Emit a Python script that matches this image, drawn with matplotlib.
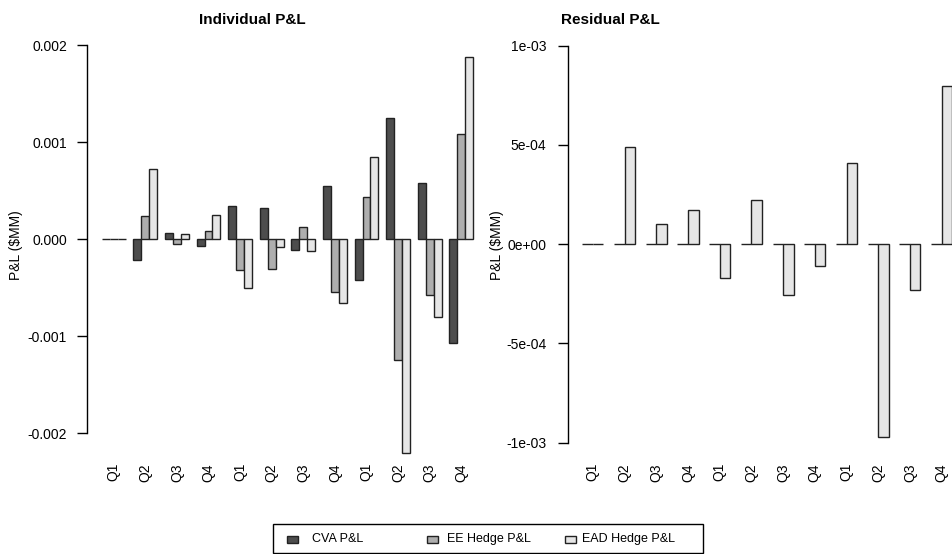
import matplotlib
matplotlib.use("Agg")
import matplotlib.pyplot as plt
from matplotlib.patches import Rectangle
import numpy as np

plt.rcParams['font.family'] = ['Liberation Sans', 'DejaVu Sans']

quarters = ["Q1", "Q2", "Q3", "Q4", "Q1", "Q2", "Q3", "Q4", "Q1", "Q2", "Q3", "Q4"]
cva_pl = [0.0, -0.00022, 0.000065, -0.000076, 0.00034, 0.00032, -0.00011, 0.00055,
          -0.00042, 0.001245, 0.00058, -0.00107]
ee_hedge_pl = [0.0, 0.00024, -0.00005, 0.00008, -0.00032, -0.00031, 0.000124, -0.00055,
               0.00043, -0.001245, -0.00058, 0.00108]
ead_hedge_pl = [0.0, 0.00072, 0.00005, 0.00025, -0.0005, -0.000086, -0.000124, -0.00066,
                0.00085, -0.00221, -0.0008, 0.00188]
residual_zero = [0.0] * 12
residual_pl = [0.0, 0.00049, 0.000104, 0.00017, -0.000171, 0.000225, -0.000255, -0.000111,
               0.000411, -0.000973, -0.00023, 0.000799]

left_ticks = [-0.002, -0.001, 0.0, 0.001, 0.002]
left_ticklabels = ["-0.002", "-0.001", "0.000", "0.001", "0.002"]
right_ticks = [-0.001, -0.0005, 0.0, 0.0005, 0.001]
right_ticklabels = ["-1e-03", "-5e-04", "0e+00", "5e-04", "1e-03"]
series_names = ["CVA P&L", "EE Hedge P&L", "EAD Hedge P&L"]
colors = ["#4D4D4D", "#AEAEAE", "#E6E6E6"]
edge = "#222222"

W, H = 952, 554
fig = plt.figure(figsize=(W / 100, H / 100), dpi=100)


def pix_axes(x0, y0, x1, y1):
    return fig.add_axes([x0 / W, 1 - y1 / H, (x1 - x0) / W, (y1 - y0) / H])


def style(ax, ticks, labels, pad_px):
    for s in ["top", "right", "bottom"]:
        ax.spines[s].set_visible(False)
    ax.spines["left"].set_bounds(ticks[0], ticks[-1])
    ax.spines["left"].set_linewidth(1.0)
    ax.set_yticks(ticks)
    ax.set_yticklabels(labels)
    ax.tick_params(axis="y", length=7.2, width=1.0, pad=pad_px * 0.72, labelsize=10)
    ax.tick_params(axis="x", length=0, pad=2.2, labelsize=10)
    ax.set_facecolor("none")


# Left panel: Individual P&L
ax1 = pix_axes(87, 30, 488, 460)
n = len(quarters)
group = np.arange(n)
series = [cva_pl, ee_hedge_pl, ead_hedge_pl]
for j, vals in enumerate(series):
    ax1.bar(1 + 4 * group + j, vals, width=1.0, align="edge", color=colors[j],
            edgecolor=edge, linewidth=1.0, clip_on=False)
ax1.set_xlim(-0.88, 49.88)
ax1.set_ylim((239 - 460) / 97000, (239 - 30) / 97000)
style(ax1, left_ticks, left_ticklabels, 10)
ax1.set_xticks(1 + 4 * group + 1.5)
ax1.set_xticklabels(quarters, rotation=90, va="top")
ax1.set_ylabel("P&L ($MM)", fontsize=10)
ax1.yaxis.label.set_va("center")
ax1.yaxis.set_label_coords((16 - 87) / 401, 0.5)

# Right panel: Residual P&L
ax2 = pix_axes(567.5, 30, 967, 460)
ax2.bar(1 + 3 * group, residual_zero, width=1.0, align="edge", color=colors[0],
        edgecolor=edge, linewidth=1.0, clip_on=False)
ax2.bar(1 + 3 * group + 1, residual_pl, width=1.0, align="edge", color=colors[2],
        edgecolor=edge, linewidth=1.0, clip_on=False)
ax2.set_xlim(-0.4, 37.4)
ax2.set_ylim((244.2 - 460) / 198500, (244.2 - 30) / 198500)
style(ax2, right_ticks, right_ticklabels, 11)
ax2.set_xticks(1 + 3 * group + 1)
ax2.set_xticklabels(quarters, rotation=90, va="top")
ax2.set_ylabel("P&L ($MM)", fontsize=10)
ax2.yaxis.label.set_va("center")
ax2.yaxis.set_label_coords((497 - 567.5) / 399.5, 0.5)

# Titles
fig.text(252 / W, 1 - 20 / H, "Individual P&L", ha="center", va="center",
         fontsize=11, fontweight="bold")
fig.text(610 / W, 1 - 20 / H, "Residual P&L", ha="center", va="center",
         fontsize=11, fontweight="bold")

# Legend (drawn in figure pixel space)
ptrans = fig.dpi_scale_trans
def px(x, y):
    return x / W, 1 - y / H

fig.patches.append(Rectangle(px(273, 553), 430 / W, 29 / H, transform=fig.transFigure,
                             facecolor="white", edgecolor="black", linewidth=1.0))
sq_x = [287, 427, 565]
tx_x = [312, 447, 582]
for j in range(3):
    fig.patches.append(Rectangle(px(sq_x[j], 542.5), 11 / W, 7 / H, transform=fig.transFigure,
                                 facecolor=colors[j], edgecolor=edge, linewidth=1.0))
    fig.text(tx_x[j] / W, 1 - 539 / H, series_names[j], ha="left", va="center", fontsize=9)

fig.savefig("out.png", dpi=100)
